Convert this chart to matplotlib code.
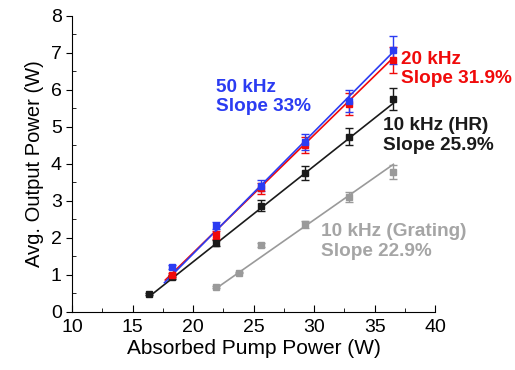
import matplotlib
matplotlib.use("Agg")
import matplotlib.pyplot as plt
import numpy as np

plt.rcParams['font.family'] = ['Liberation Sans', 'DejaVu Sans']

# measured points
x_50 = [18.24, 21.9, 25.6, 29.23, 32.9, 36.55]
y_50 = [1.22, 2.33, 3.41, 4.60, 5.71, 7.08]
e_50 = [0.05, 0.1, 0.15, 0.22, 0.3, 0.38]

x_20 = [18.24, 21.9, 25.6, 29.23, 32.9, 36.55]
y_20 = [0.99, 2.08, 3.34, 4.51, 5.61, 6.81]
e_20 = [0.05, 0.1, 0.15, 0.22, 0.3, 0.35]

x_hr = [16.39, 18.24, 21.9, 25.6, 29.23, 32.9, 36.55]
y_hr = [0.48, 0.95, 1.86, 2.87, 3.75, 4.74, 5.76]
e_hr = [0.02, 0.05, 0.08, 0.15, 0.18, 0.24, 0.3]

x_gr = [21.9, 23.75, 25.6, 29.23, 32.9, 36.55]
y_gr = [0.67, 1.06, 1.81, 2.37, 3.10, 3.78]
e_gr = [0.02, 0.02, 0.05, 0.1, 0.13, 0.2]

# linear fits: slope, threshold, fit range
fit_50 = (0.33, 15.24, 17.63, 36.55)
fit_20 = (0.319, 15.0, 17.7, 36.55)
fit_hr = (0.259, 14.77, 16.39, 36.55)
fit_gr = (0.229, 19.13, 21.9, 36.55)

blue = "#2b3cf2"
red = "#f00a0a"
black = "#1a1a1a"
gray = "#9a9a9a"

fig = plt.figure(figsize=(5.15, 3.7), dpi=100)
ax = fig.add_axes([0.140, 0.157, 0.705, 0.800])

series = [(x_gr, y_gr, e_gr, fit_gr, gray),
          (x_hr, y_hr, e_hr, fit_hr, black),
          (x_20, y_20, e_20, fit_20, red),
          (x_50, y_50, e_50, fit_50, blue)]
for xs, ys, es, fit, c in series:
    slope, x0, xa, xb = fit
    xf = np.array([xa, xb])
    ax.plot(xf, slope * (xf - x0), color=c, lw=1.2)
    ax.errorbar(xs, ys, yerr=es, fmt='s', color=c, ms=5, capsize=3,
                elinewidth=1, capthick=1)

fs = 13.7
ax.text(21.9, 6.3, "50 kHz\nSlope 33%", color=blue, fontsize=fs,
        fontweight='bold', va='top', linespacing=1.2)
ax.text(37.2, 7.06, "20 kHz\nSlope 31.9%", color=red, fontsize=fs,
        fontweight='bold', va='top', linespacing=1.2)
ax.text(35.65, 5.26, "10 kHz (HR)\nSlope 25.9%", color=black, fontsize=fs,
        fontweight='bold', va='top', linespacing=1.2)
ax.text(30.55, 2.4, "10 kHz (Grating)\nSlope 22.9%", color="#a5a5a5",
        fontsize=fs, fontweight='bold', va='top', linespacing=1.2)

ax.set_xlim(10, 40)
ax.set_ylim(0, 8)
ax.set_xticks(range(10, 41, 5))
ax.set_xticks(np.arange(12.5, 40, 5), minor=True)
ax.set_yticks(range(0, 9))
ax.set_yticks(np.arange(0.5, 8, 1), minor=True)
ax.spines['top'].set_visible(False)
ax.spines['right'].set_visible(False)
ax.tick_params(axis='x', which='major', direction='in', length=5, labelsize=14, pad=5)
ax.tick_params(axis='x', which='minor', direction='in', length=3)
ax.tick_params(axis='y', which='major', direction='out', length=4, labelsize=14)
ax.tick_params(axis='y', which='minor', direction='in', length=3)
ax.set_xlabel("Absorbed Pump Power (W)", fontsize=15, labelpad=2)
ax.set_ylabel("Avg. Output Power (W)", fontsize=14.5, labelpad=5)

fig.savefig("out.png", dpi=100)
